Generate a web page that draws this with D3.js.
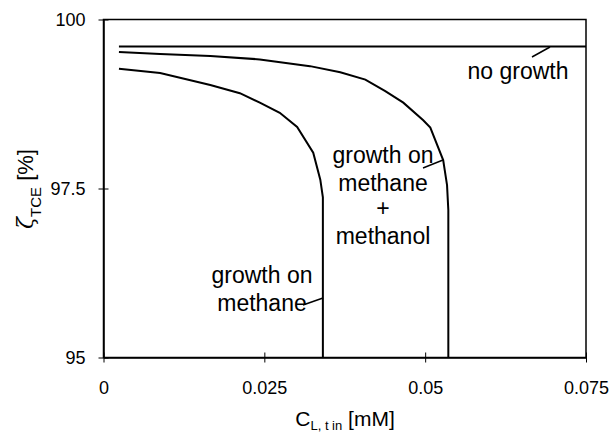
<!DOCTYPE html>
<html>
<head>
<meta charset="utf-8">
<script src="https://cdn.jsdelivr.net/npm/d3@7"></script>
<style>
  body { margin: 0; background: #fff; }
  text { font-family: "Liberation Sans", Arial, sans-serif; fill: #000; }
</style>
</head>
<body>
<script>
// chart size
var w = 613;
var h = 435;
var margin = { left: 103.5, right: 27, top: 19.5, bottom: 77.5 };

// data
var xTicks = [0, 0.025, 0.05, 0.075];
var xTickLabels = ["0", "0.025", "0.05", "0.075"];
var yTicks = [95, 97.5, 100];
var yTickLabels = ["95", "97.5", "100"];

var noGrowthX = [0.0024, 0.075];
var noGrowthY = [99.60, 99.60];

var methanolX = [0.0024, 0.0088, 0.0166, 0.0243, 0.0321, 0.0368, 0.0407, 0.0438, 0.0466, 0.0497, 0.0508, 0.0528, 0.0534, 0.0536, 0.0536];
var methanolY = [99.52, 99.49, 99.46, 99.41, 99.31, 99.22, 99.11, 98.94, 98.77, 98.51, 98.40, 97.92, 97.55, 97.18, 95];

var methaneX = [0.0024, 0.0088, 0.0166, 0.0212, 0.0243, 0.0274, 0.0301, 0.0326, 0.0337, 0.0341, 0.0341];
var methaneY = [99.27, 99.21, 99.03, 98.91, 98.77, 98.62, 98.41, 98.03, 97.63, 97.37, 95];

var svg = d3.select("body")
  .append("svg")
  .attr("width", w)
  .attr("height", h);

var x = d3.scaleLinear().domain([0, 0.075]).range([margin.left, w - margin.right]);
var y = d3.scaleLinear().domain([95, 100]).range([h - margin.bottom, margin.top]);

// frame
svg.append("rect")
  .attr("x", x(0))
  .attr("y", y(100))
  .attr("width", x(0.075) - x(0))
  .attr("height", y(95) - y(100))
  .attr("fill", "none")
  .attr("stroke", "#000")
  .attr("stroke-width", 1.5);

// axes
var xAxis = d3.axisBottom(x)
  .tickValues(xTicks)
  .tickFormat(function(d, i) { return xTickLabels[i]; })
  .tickSizeInner(5)
  .tickSizeOuter(0)
  .tickPadding(19);

var gx = svg.append("g")
  .attr("transform", "translate(0," + y(95) + ")")
  .call(xAxis);
gx.select(".domain").attr("stroke-width", 1.5);
gx.selectAll(".tick line").attr("y1", -5).attr("y2", 5).attr("stroke-width", 1);
gx.selectAll(".tick text")
  .attr("font-size", "18px")
  .attr("font-family", "Liberation Sans, Arial, sans-serif");

var yAxis = d3.axisLeft(y)
  .tickValues(yTicks)
  .tickFormat(function(d, i) { return yTickLabels[i]; })
  .tickSizeInner(5)
  .tickSizeOuter(0)
  .tickPadding(13);

var gy = svg.append("g")
  .attr("transform", "translate(" + x(0) + ",0)")
  .call(yAxis);
gy.select(".domain").attr("stroke-width", 1.5);
gy.selectAll(".tick line").attr("x1", -5).attr("x2", 5).attr("stroke-width", 1);
gy.selectAll(".tick text")
  .attr("font-size", "18px")
  .attr("font-family", "Liberation Sans, Arial, sans-serif");

// curves
var line = d3.line()
  .x(function(d) { return x(d[0]); })
  .y(function(d) { return y(d[1]); });

var series = [
  [noGrowthX, noGrowthY],
  [methanolX, methanolY],
  [methaneX, methaneY]
];

svg.selectAll("path.curve")
  .data(series)
  .enter()
  .append("path")
  .attr("class", "curve")
  .attr("d", function(s) { return line(d3.zip(s[0], s[1])); })
  .attr("fill", "none")
  .attr("stroke", "#000")
  .attr("stroke-width", 2);

// annotations
var fs = "23px";
function label(txt, cx, cy) {
  svg.append("text")
    .attr("x", cx)
    .attr("y", cy)
    .attr("text-anchor", "middle")
    .attr("font-size", fs)
    .text(txt);
}
label("no growth", 518, 79);
label("growth on", 383, 163);
label("methane", 383, 191);
label("+", 383, 216);
label("methanol", 383, 244);
label("growth on", 262, 283);
label("methane", 262, 311);

function leader(x1, y1, x2, y2) {
  svg.append("line")
    .attr("x1", x1).attr("y1", y1)
    .attr("x2", x2).attr("y2", y2)
    .attr("stroke", "#000")
    .attr("stroke-width", 1.5);
}
leader(532, 57, 550, 47);
leader(423, 168, 443, 160);
leader(303, 305, 323, 298);

// axis titles
var xt = svg.append("text")
  .attr("x", 345)
  .attr("y", 426)
  .attr("text-anchor", "middle")
  .attr("font-size", "21px");
xt.append("tspan").text("C");
xt.append("tspan").attr("font-size", "13px").attr("dy", 4).text("L, t in");
xt.append("tspan").attr("dy", -4).text(" [mM]");

var yt = svg.append("text")
  .attr("transform", "translate(33,189) rotate(-90)")
  .attr("text-anchor", "middle")
  .attr("font-size", "22px");
yt.append("tspan").attr("font-family", "DejaVu Serif, serif").attr("font-style", "italic").text("ζ");
yt.append("tspan").attr("font-size", "15px").attr("dy", 8).text("TCE");
yt.append("tspan").attr("dy", -8).text(" [%]");
</script>
</body>
</html>
